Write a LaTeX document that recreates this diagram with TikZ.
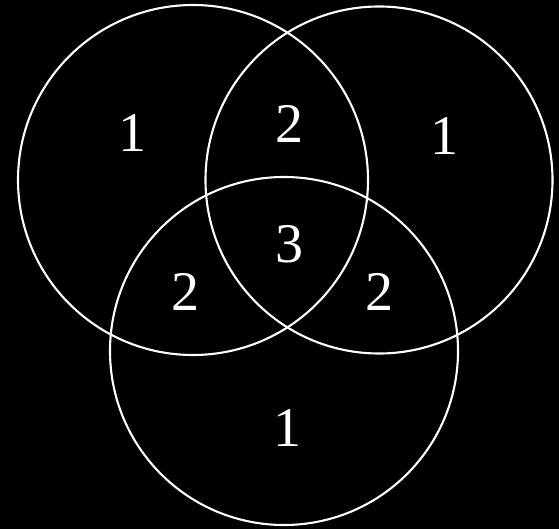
\documentclass[tikz,border=0pt]{standalone}
\usepackage{fontspec}
\setmainfont{Liberation Serif}
\begin{document}
\begin{tikzpicture}[x=1pt,y=-1pt,
  ring/.style={circle,draw=white,line width=2.1pt,minimum size=350pt,inner sep=0pt},
  num/.style={text=white,font=\fontsize{56}{56}\selectfont,inner sep=0pt}]
\fill[black] (0,0) rectangle (559,529);
\useasboundingbox (0,0) rectangle (559,529);
\node[ring] (A) at (193,180) {};
\node[ring,minimum size=347pt] (B) at (379,180) {};
\node[ring,minimum size=348pt] (C) at (284,351) {};
\node[num] (a) at (132,133) {1};
\node[num] (ab) at (289,124) {2};
\node[num] (b) at (444,136) {1};
\node[num] (abc) at (289,244) {3};
\node[num] (ac) at (185,292) {2};
\node[num] (bc) at (379,292) {2};
\node[num] (c) at (287,428) {1};
\end{tikzpicture}
\end{document}
